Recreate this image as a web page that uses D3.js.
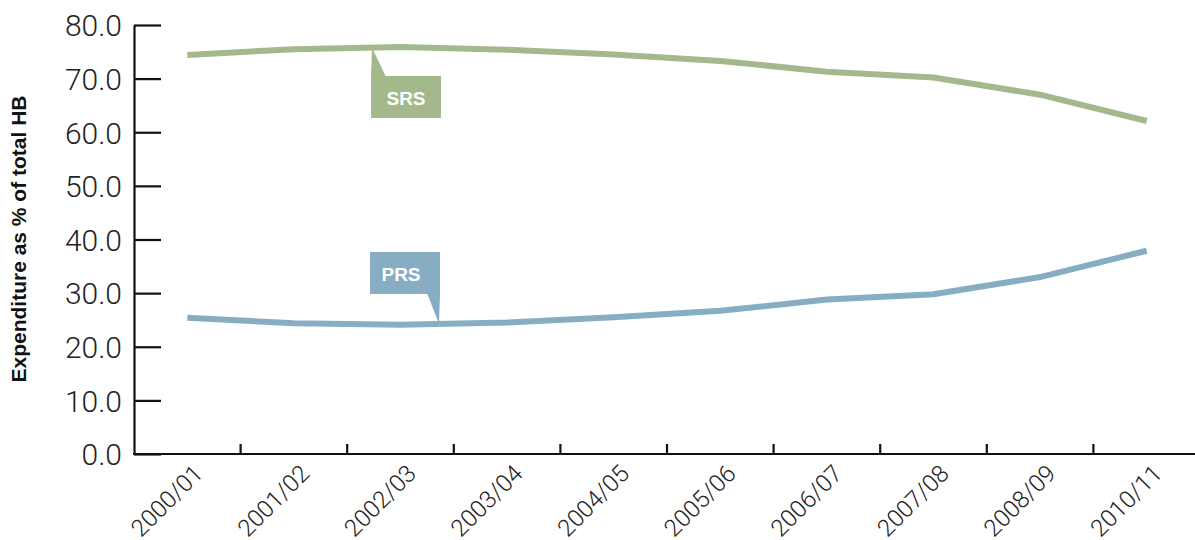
<!DOCTYPE html>
<html>
<head>
<meta charset="utf-8">
<script src="https://cdn.jsdelivr.net/npm/d3@7"></script>
<style>
  body { margin: 0; background: #fff; }
  svg text { font-family: "Liberation Sans", Arial, sans-serif; }
</style>
</head>
<body>
<svg id="chart" width="1195" height="540"></svg>
<script>
// data
var years = ["2000/01", "2001/02", "2002/03", "2003/04", "2004/05",
             "2005/06", "2006/07", "2007/08", "2008/09", "2010/11"];
var srs = [74.4, 75.5, 75.9, 75.4, 74.5, 73.3, 71.3, 70.2, 67.0, 62.1];
var prs = [25.4, 24.4, 24.1, 24.5, 25.5, 26.7, 28.8, 29.8, 33.0, 37.9];
var yTicks = [0, 10, 20, 30, 40, 50, 60, 70, 80];

var svg = d3.select("#chart");

var x = d3.scaleBand().domain(years).range([134, 1200]);
var y = d3.scaleLinear().domain([0, 80]).range([454, 25]);

var green = "#a3b98c",
    blue = "#87adc3";

// y axis, ticks pointing inward
var yAxis = svg.append("g")
  .attr("transform", "translate(134,0)")
  .call(d3.axisLeft(y).tickValues(yTicks).tickSize(-27).tickSizeOuter(0)
        .tickPadding(12).tickFormat(d3.format(".1f")));
yAxis.select(".domain").attr("stroke", "#111").attr("stroke-width", 2.2);
yAxis.selectAll(".tick line").attr("stroke", "#111").attr("stroke-width", 2.2);
yAxis.selectAll(".tick text")
  .attr("fill", "#222")
  .style("font-family", "Roboto, 'Liberation Sans', sans-serif")
  .style("font-weight", 300)
  .style("font-size", "30px")
  .attr("dy", "0.36em");

// x axis: line + ticks at band edges
svg.append("line")
  .attr("x1", 133).attr("x2", 1195)
  .attr("y1", y(0)).attr("y2", y(0))
  .attr("stroke", "#111").attr("stroke-width", 2.2);

svg.selectAll(".xtick")
  .data(years.slice(1))
  .enter().append("line")
  .attr("class", "xtick")
  .attr("x1", function(d) { return x(d); })
  .attr("x2", function(d) { return x(d); })
  .attr("y1", y(0)).attr("y2", y(0) - 10)
  .attr("stroke", "#111").attr("stroke-width", 2.2);

svg.selectAll(".xlabel")
  .data(years)
  .enter().append("text")
  .attr("class", "xlabel")
  .attr("transform", function(d) {
    return "translate(" + (x(d) + x.bandwidth() / 2 + 17) + ",475) rotate(-45)";
  })
  .attr("text-anchor", "end")
  .attr("fill", "#222")
  .style("font-family", "Roboto, 'Liberation Sans', sans-serif")
  .style("font-weight", 300)
  .style("font-size", "24px")
  .text(function(d) { return d; });

// y axis title
svg.append("text")
  .attr("transform", "translate(26,239) rotate(-90)")
  .attr("text-anchor", "middle")
  .attr("fill", "#111")
  .style("font-weight", "bold")
  .style("font-size", "21px")
  .text("Expenditure as % of total HB");

// lines
var line = d3.line()
  .x(function(d, i) { return x(years[i]) + x.bandwidth() / 2; })
  .y(function(d) { return y(d); });

svg.append("path").datum(srs)
  .attr("d", line)
  .attr("fill", "none").attr("stroke", green).attr("stroke-width", 6);

svg.append("path").datum(prs)
  .attr("d", line)
  .attr("fill", "none").attr("stroke", blue).attr("stroke-width", 6);

// callouts
function lerpY(series, px) {
  var cx = years.map(function(d) { return x(d) + x.bandwidth() / 2; });
  var i = d3.bisectRight(cx, px) - 1;
  var t = (px - cx[i]) / (cx[i + 1] - cx[i]);
  return y(series[i] + t * (series[i + 1] - series[i]));
}

var srsTipX = 372, srsTipY = lerpY(srs, srsTipX);
svg.append("path")
  .attr("d", "M" + srsTipX + "," + srsTipY + "L" + 386 + ",77L" + 371 + ",77Z")
  .attr("fill", green);
svg.append("rect")
  .attr("x", 371).attr("y", 76).attr("width", 70).attr("height", 42)
  .attr("fill", green);
svg.append("text")
  .attr("x", 406).attr("y", 98).attr("dy", "0.35em")
  .attr("text-anchor", "middle").attr("fill", "#fff")
  .style("font-weight", "bold").style("font-size", "19px")
  .text("SRS");

var prsTipX = 439, prsTipY = lerpY(prs, prsTipX);
svg.append("path")
  .attr("d", "M" + prsTipX + "," + prsTipY + "L440,293L427,293Z")
  .attr("fill", blue);
svg.append("rect")
  .attr("x", 370).attr("y", 252).attr("width", 70).attr("height", 42)
  .attr("fill", blue);
svg.append("text")
  .attr("x", 401).attr("y", 274).attr("dy", "0.35em")
  .attr("text-anchor", "middle").attr("fill", "#fff")
  .style("font-weight", "bold").style("font-size", "19px")
  .text("PRS");
</script>
</body>
</html>
